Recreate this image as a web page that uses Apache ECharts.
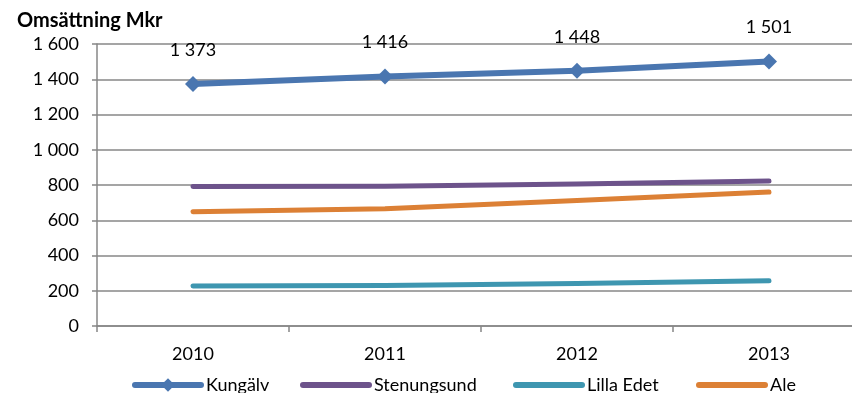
<!DOCTYPE html>
<html>
<head>
<meta charset="utf-8">
<script src="https://cdn.jsdelivr.net/npm/echarts@6/dist/echarts.min.js"></script>
<style>
  html, body { margin: 0; padding: 0; background: #fff; }
  #chart { width: 852px; height: 393px; }
</style>
</head>
<body>
<div id="chart"></div>
<script>
// Omsättning (Mkr) per kommun, 2010–2013
const years = ['2010', '2011', '2012', '2013'];
const kungalv = [1373, 1416, 1448, 1501];
const stenungsund = [792, 793, 806, 823];
const lillaEdet = [227, 230, 241, 257];
const ale = [648, 665, 712, 760];

const yMin = 0, yMax = 1600, yStep = 200;

const FONT = 'Lato, "Open Sans", "Liberation Sans", sans-serif';
const fmt = v => String(v).replace(/\B(?=(\d{3})+(?!\d))/g, ' ');

const chart = echarts.init(document.getElementById('chart'), null, { renderer: 'canvas' });

function lineSeries(name, data, color, extra) {
  return Object.assign({
    name: name,
    type: 'line',
    data: data,
    symbol: 'none',
    smooth: false,
    lineStyle: { color: color, width: 5, cap: 'round', join: 'round' },
    itemStyle: { color: color },
    emphasis: { disabled: true },
    animation: false
  }, extra || {});
}

// one legend block per series, laid out along the bottom row
function legendAt(left, name, marker) {
  return {
    top: 376,
    left: left,
    padding: 0,
    itemWidth: 66,
    itemHeight: 17,
    itemGap: 0,
    textStyle: { fontFamily: FONT, fontSize: 18, color: '#000' },
    lineStyle: { width: 6, cap: 'round' },
    data: [marker ? name : { name: name, itemStyle: { opacity: 0 } }]
  };
}

chart.setOption({
  backgroundColor: '#ffffff',
  animation: false,
  title: {
    text: 'Omsättning Mkr',
    left: 17,
    top: 11,
    padding: 0,
    textStyle: { fontFamily: FONT, fontSize: 20, fontWeight: 'bold', color: '#000' }
  },
  grid: {
    left: 97, top: 44, width: 768, bottom: 67,
    containLabel: false,
    outerBoundsMode: 'none'
  },
  xAxis: {
    type: 'category',
    data: years,
    boundaryGap: true,
    axisLine: { show: true, lineStyle: { color: '#878787', width: 1.5 } },
    axisTick: { show: true, length: 6, lineStyle: { color: '#878787', width: 1.5 } },
    axisLabel: { margin: 19, fontFamily: FONT, fontSize: 18, color: '#000' },
    splitLine: { show: false }
  },
  yAxis: {
    type: 'value',
    min: yMin,
    max: yMax,
    interval: yStep,
    axisLine: { show: true, lineStyle: { color: '#878787', width: 1.5 } },
    axisTick: { show: true, length: 5, lineStyle: { color: '#878787', width: 1.5 } },
    axisLabel: { margin: 18, fontFamily: FONT, fontSize: 18, color: '#000', formatter: fmt },
    splitLine: { show: true, lineStyle: { color: '#878787', width: 1.5 } }
  },
  legend: [
    legendAt(132, 'Kungälv', true),
    legendAt(300, 'Stenungsund', false),
    legendAt(513, 'Lilla Edet', false),
    legendAt(696, 'Ale', false)
  ],
  series: [
    lineSeries('Kungälv', kungalv, '#4a76b0', {
      symbol: 'diamond',
      symbolSize: 16,
      lineStyle: { color: '#4a76b0', width: 6, cap: 'round', join: 'round' },
      label: {
        show: true,
        position: 'top',
        distance: 17,
        fontFamily: FONT,
        fontSize: 18,
        color: '#000',
        formatter: p => fmt(p.value)
      },
      z: 5
    }),
    lineSeries('Stenungsund', stenungsund, '#6d538b'),
    lineSeries('Lilla Edet', lillaEdet, '#3e96b0'),
    lineSeries('Ale', ale, '#dc8035')
  ]
});
</script>
</body>
</html>
